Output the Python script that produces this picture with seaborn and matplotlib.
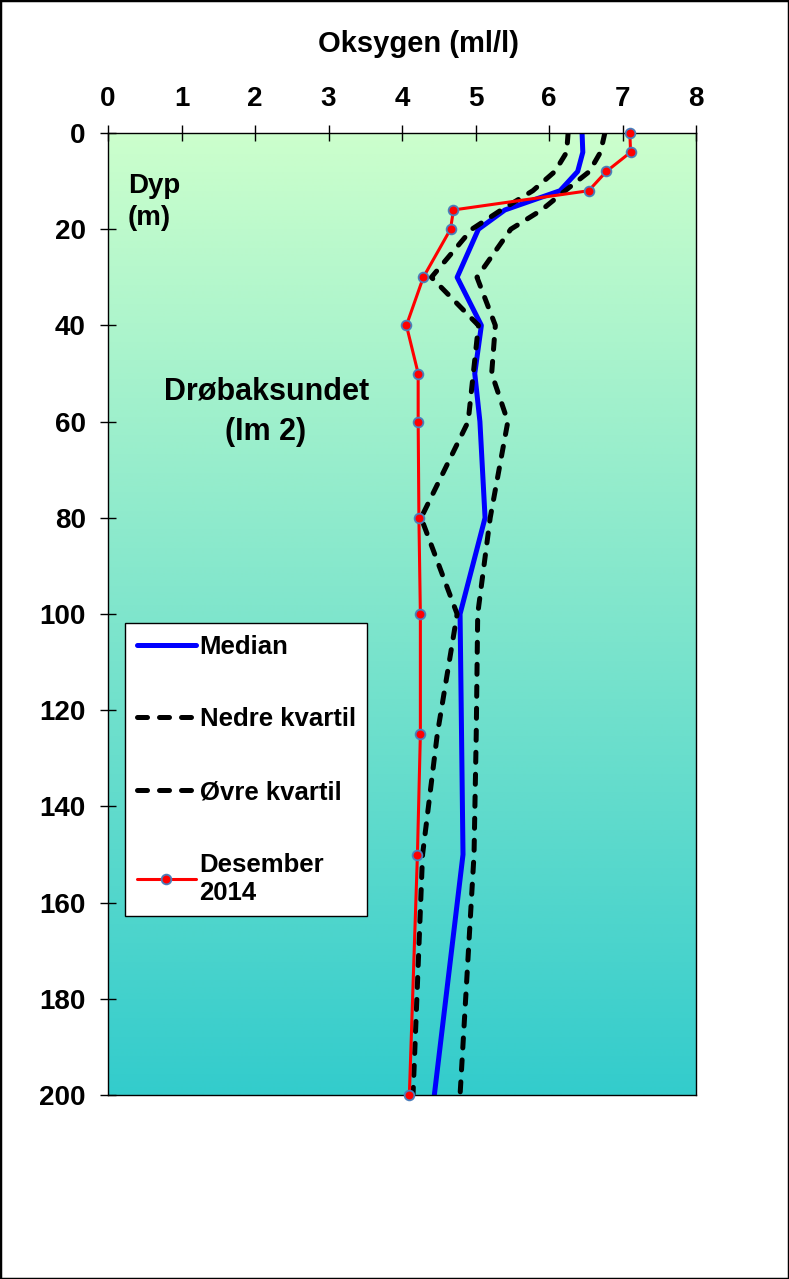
import numpy as np
import pandas as pd
import matplotlib
matplotlib.use("Agg")
import matplotlib.pyplot as plt
import seaborn as sns
from matplotlib.patches import Rectangle

sns.set_theme(style="white")
plt.rcParams['font.family'] = ['Liberation Sans', 'DejaVu Sans']
plt.rcParams['font.weight'] = 'bold'
plt.rcParams['text.color'] = 'black'

# ---- data ----
depth = [0, 4, 8, 12, 16, 20, 30, 40, 50, 60, 80, 100, 125, 150, 200]
median = [6.45, 6.46, 6.39, 6.15, 5.40, 5.04, 4.75, 5.08, 4.99, 5.06, 5.13, 4.79, 4.81, 4.83, 4.44]
nedre = [6.26, 6.24, 6.08, 5.78, 5.35, 4.95, 4.40, 5.04, 4.97, 4.90, 4.26, 4.75, 4.48, 4.28, 4.15]
ovre = [6.76, 6.70, 6.55, 6.22, 5.90, 5.48, 5.02, 5.27, 5.22, 5.44, 5.20, 5.03, 5.01, 4.98, 4.79]
des2014 = [7.10, 7.11, 6.78, 6.54, 4.70, 4.66, 4.29, 4.06, 4.22, 4.22, 4.23, 4.25, 4.25, 4.21, 4.10]
xticks = [0, 1, 2, 3, 4, 5, 6, 7, 8]
yticks = [0, 20, 40, 60, 80, 100, 120, 140, 160, 180, 200]

df = pd.DataFrame({"Dyp": depth, "Median": median, "Nedre": nedre,
                   "Ovre": ovre, "Des": des2014})

W, H = 789, 1279
fig = plt.figure(figsize=(W / 100, H / 100), dpi=100)
fig.patch.set_facecolor('white')
ax = fig.add_axes([108 / W, 1 - 1095 / H, (696 - 108) / W, (1095 - 133) / H])

# gradient background
top = np.array([204, 255, 204]) / 255
bot = np.array([51, 204, 204]) / 255
t = np.linspace(0, 1, 256)[:, None]
grad = (top[None, :] * (1 - t) + bot[None, :] * t)[:, None, :]
ax.imshow(grad, extent=[0, 8, 200, 0], aspect='auto', zorder=0, interpolation='bilinear')

dash = (0, (2.0, 2.4))
sns.lineplot(data=df, x="Median", y="Dyp", orient="y", sort=False, estimator=None,
             color="#0000FF", lw=3.6, ax=ax, label="Median", zorder=3)
sns.lineplot(data=df, x="Nedre", y="Dyp", orient="y", sort=False, estimator=None,
             color="black", lw=3.6, linestyle=dash, dash_capstyle='round', ax=ax,
             label="Nedre kvartil", zorder=4)
sns.lineplot(data=df, x="Ovre", y="Dyp", orient="y", sort=False, estimator=None,
             color="black", lw=3.6, linestyle=dash, dash_capstyle='round', ax=ax,
             label="Øvre kvartil", zorder=4)
sns.lineplot(data=df, x="Des", y="Dyp", orient="y", sort=False, estimator=None,
             color="#FF0000", lw=2.2, marker='o', markersize=7, markerfacecolor="#FF0000",
             markeredgecolor="#4A7EBB", markeredgewidth=1.3, ax=ax,
             label="Desember\n2014", zorder=6, clip_on=False)

ax.set_xlim(0, 8)
ax.set_ylim(200, 0)
ax.set_xticks(xticks)
ax.set_yticks(yticks)
ax.xaxis.tick_top()
ax.set_xlabel("")
ax.set_ylabel("")
ax.tick_params(axis='both', direction='inout', length=12, width=1, color='black',
               labelsize=20, labelcolor='black')
ax.tick_params(axis='x', pad=9, top=True, bottom=False)
ax.tick_params(axis='y', pad=10, left=True)
for lab in ax.get_xticklabels() + ax.get_yticklabels():
    lab.set_fontweight('bold')
for s in ax.spines.values():
    s.set_color('black')
    s.set_linewidth(1.0)
    s.set_visible(True)
    s.set_zorder(5)

# texts
def ftxt(x, y, s, size, ha='left'):
    fig.text(x / W, 1 - y / H, s, fontsize=size, fontweight='bold', ha=ha,
             va='baseline', color='black')

ftxt(419, 52, "Oksygen (ml/l)", 21, ha='center')
ftxt(128, 193, "Dyp", 20)
ftxt(128, 225, "(m)", 20)
ftxt(267, 400, "Drøbaksundet", 22, ha='center')
ftxt(266, 440, "(Im 2)", 22, ha='center')

leg = ax.legend(loc='upper left', bbox_to_anchor=(125 / W, 1 - 623 / H),
                bbox_transform=fig.transFigure, borderaxespad=0, frameon=True,
                fancybox=False, edgecolor='black', facecolor='white', framealpha=1,
                prop={'size': 18.5, 'weight': 'bold'}, handlelength=2.3,
                handletextpad=0.15, labelspacing=1.9, borderpad=0.45,
                labelcolor='black')
leg.get_frame().set_linewidth(1.0)
leg.set_zorder(10)

fig.patches.append(Rectangle((0, 0), 1, 1, transform=fig.transFigure, fill=False,
                             edgecolor='black', lw=2.5))

fig.savefig("out.png", dpi=100)
